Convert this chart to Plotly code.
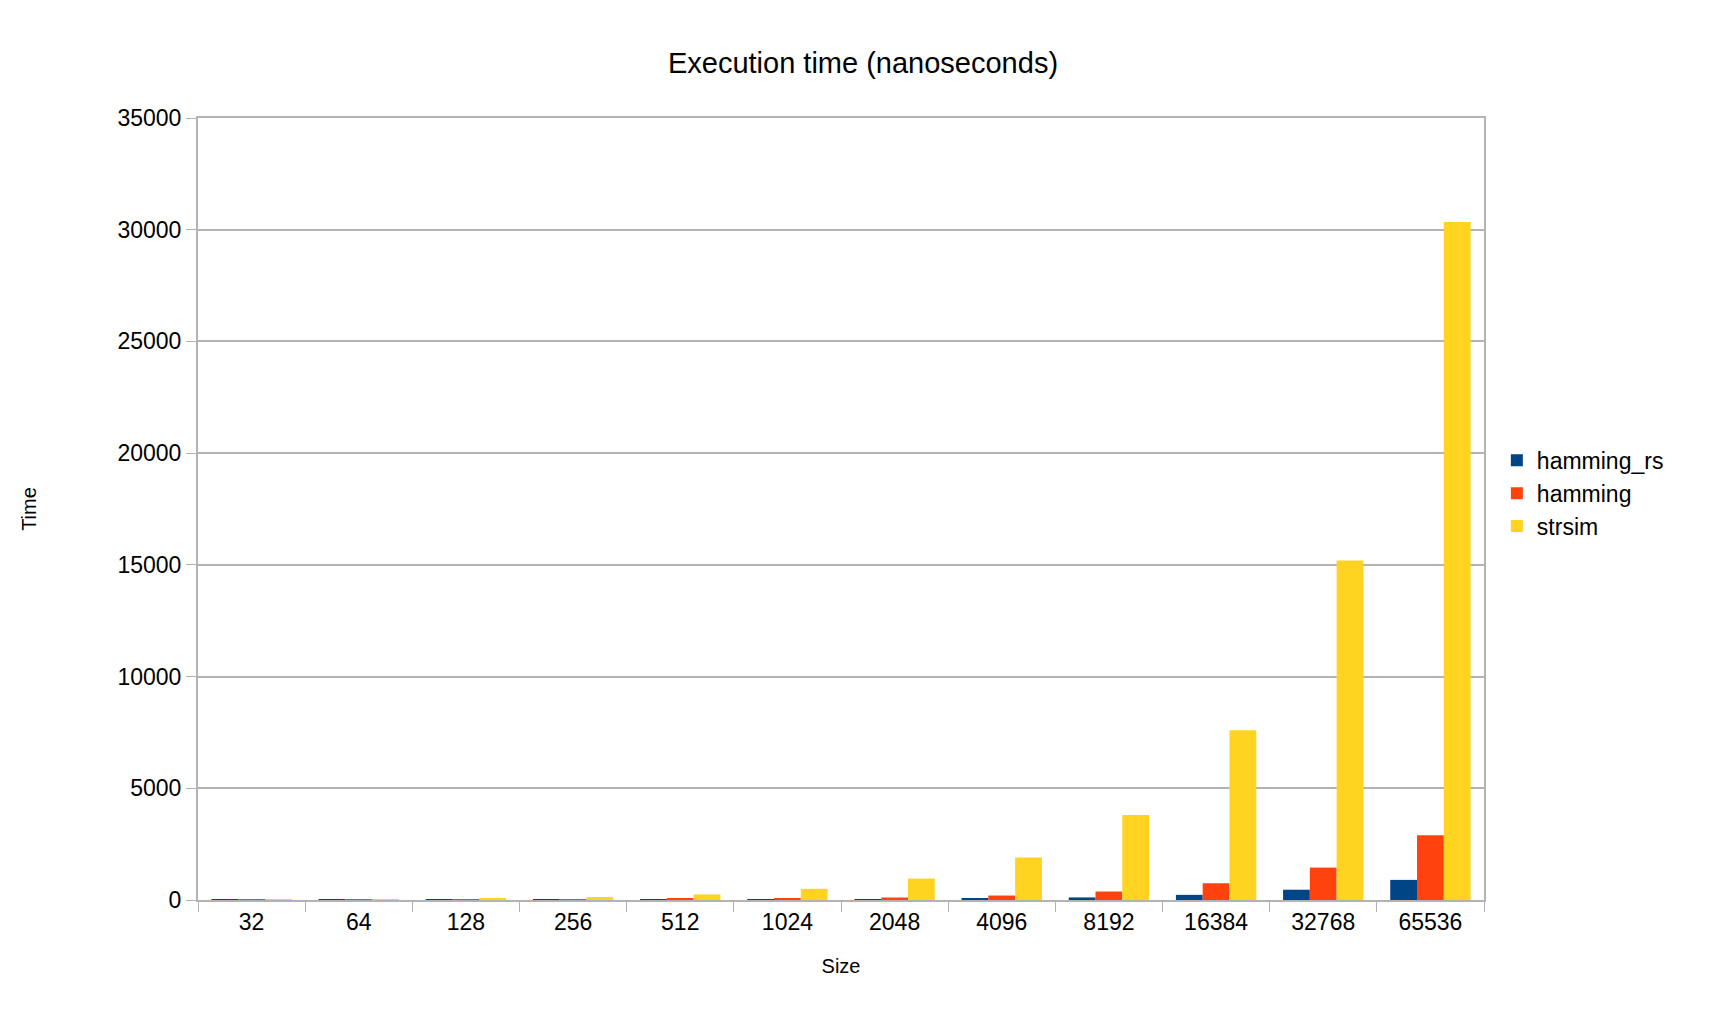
import plotly.graph_objects as go

sizes = ["32", "64", "128", "256", "512", "1024", "2048", "4096", "8192", "16384", "32768", "65536"]
hamming_rs = [2, 3, 4, 6, 9, 14, 25, 50, 115, 230, 460, 900]
hamming = [8, 12, 20, 30, 50, 70, 110, 200, 380, 750, 1450, 2900]
strsim = [25, 35, 65, 130, 250, 500, 960, 1900, 3800, 7600, 15200, 30350]

series = [("hamming_rs", hamming_rs, "#004586"), ("hamming", hamming, "#ff420e"), ("strsim", strsim, "#ffd320")]

fig = go.Figure()
for name, vals, color in series:
    fig.add_trace(go.Bar(x=sizes, y=vals, name=name, marker_color=color, marker_line_width=0))

axis_line = dict(showline=True, linecolor="#b3b3b3", linewidth=2, mirror=True)
fig.update_layout(
    width=1710, height=1029,
    paper_bgcolor="white", plot_bgcolor="white",
    font=dict(family="Liberation Sans, Arial", size=23, color="#000"),
    title=dict(text="Execution time (nanoseconds)", x=0.5, xanchor="center", y=0.947, yanchor="middle",
               font=dict(size=29)),
    margin=dict(l=190, r=234, t=110, b=137),
    bargap=0.25, bargroupgap=0,
    legend=dict(x=1.01, y=0.52, yanchor="middle", font=dict(size=23), itemwidth=30, tracegroupgap=2),
    xaxis=dict(title=dict(text="Size", font=dict(size=20), standoff=25), ticks="outside", ticklen=10,
               tickson="boundaries", tickcolor="#b3b3b3", **axis_line),
    yaxis=dict(title=dict(text="Time", font=dict(size=20), standoff=75), range=[0, 35000], dtick=5000,
               tickformat="d", gridcolor="#b3b3b3", gridwidth=1.5, ticks="outside", ticklen=10,
               tickcolor="#b3b3b3", zeroline=False, **axis_line),
)
fig.write_html("out.html")
